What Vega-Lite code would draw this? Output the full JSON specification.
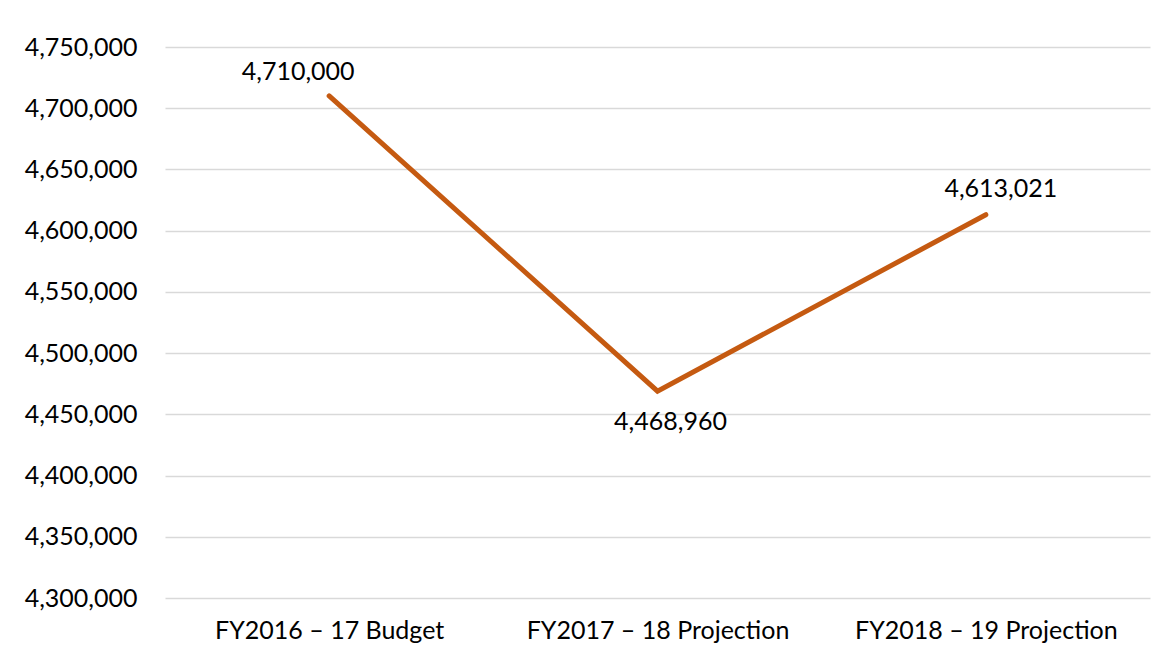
{
  "$schema": "https://vega.github.io/schema/vega-lite/v6.json",
  "autosize": {"type": "none"},
  "width": 985,
  "height": 551,
  "padding": {"left": 165, "top": 47, "right": 22, "bottom": 61},
  "background": "white",
  "config": {
    "view": {"stroke": null},
    "font": "Lato",
    "axis": {"labelFont": "Lato", "labelFontSize": 25, "labelColor": "#000000", "labelLimit": 0}
  },
  "data": {
    "values": [
      {"period": "FY2016 – 17 Budget", "value": 4710000, "label": "4,710,000"},
      {"period": "FY2017 – 18 Projection", "value": 4468960, "label": "4,468,960"},
      {"period": "FY2018 – 19 Projection", "value": 4613021, "label": "4,613,021"}
    ]
  },
  "encoding": {
    "x": {
      "field": "period", "type": "ordinal", "sort": null,
      "scale": {"type": "point", "padding": 0.5},
      "axis": {"title": null, "domain": false, "ticks": false, "labelAngle": 0, "labelPadding": 20, "grid": false}
    },
    "y": {
      "field": "value", "type": "quantitative",
      "scale": {"domain": [4300000, 4750000], "zero": false, "nice": false},
      "axis": {
        "title": null, "domain": false, "ticks": false, "labelPadding": 28,
        "values": [4300000, 4350000, 4400000, 4450000, 4500000, 4550000, 4600000, 4650000, 4700000, 4750000],
        "format": ",.0f",
        "grid": true, "gridColor": "#D9D9D9", "gridWidth": 1.5
      }
    }
  },
  "layer": [
    {"mark": {"type": "line", "color": "#C55A11", "strokeWidth": 5, "strokeCap": "round", "strokeJoin": "miter"}},
    {
      "transform": [{"filter": "datum.period == 'FY2016 – 17 Budget'"}],
      "mark": {"type": "text", "fontSize": 25, "color": "#000000", "baseline": "alphabetic", "dx": -31, "dy": -16},
      "encoding": {"text": {"field": "label"}}
    },
    {
      "transform": [{"filter": "datum.period == 'FY2017 – 18 Projection'"}],
      "mark": {"type": "text", "fontSize": 25, "color": "#000000", "baseline": "alphabetic", "dx": 13, "dy": 39},
      "encoding": {"text": {"field": "label"}}
    },
    {
      "transform": [{"filter": "datum.period == 'FY2018 – 19 Projection'"}],
      "mark": {"type": "text", "fontSize": 25, "color": "#000000", "baseline": "alphabetic", "dx": 15, "dy": -18},
      "encoding": {"text": {"field": "label"}}
    }
  ]
}
